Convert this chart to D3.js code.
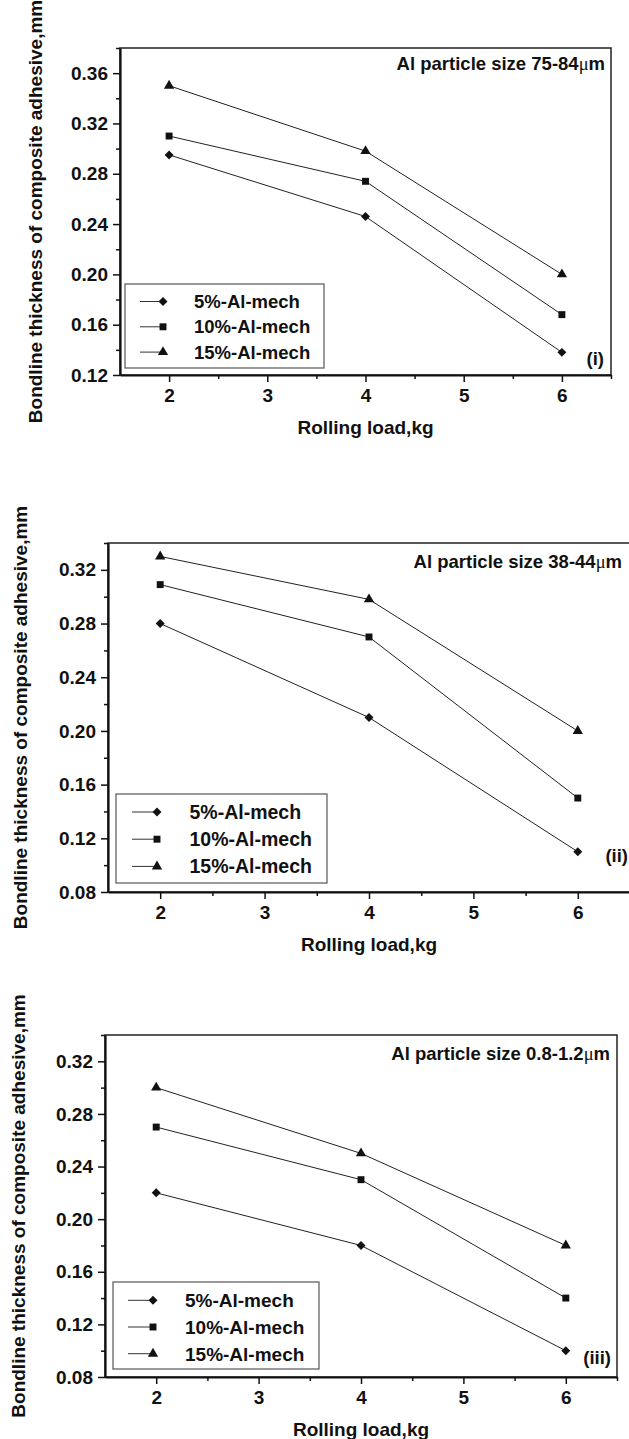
<!DOCTYPE html>
<html>
  <head>
    <meta charset="UTF-8" />
    <style>
      body {
        margin: 0;
        background: #fff;
      }
      svg {
        display: block;
        font-family: "Liberation Sans", Arial, sans-serif;
        font-weight: bold;
      }
      .axis path,
      .axis line {
        stroke: #111;
      }
      .axis text {
        font-family: "Liberation Sans", Arial, sans-serif;
        font-size: 19px;
        font-weight: bold;
        fill: #111;
      }
    </style>
  </head>
  <body>
    <svg></svg>

    <script src="https://d3js.org/d3.v7.min.js"></script>

    <script>
      // Rolling load, kg
      const loads = [2, 4, 6];
      const seriesNames = ["5%-Al-mech", "10%-Al-mech", "15%-Al-mech"];

      // Bondline thickness, mm -- (i) Al particle size 75-84um
      const coarse5 = [0.295, 0.246, 0.138];
      const coarse10 = [0.31, 0.274, 0.168];
      const coarse15 = [0.35, 0.298, 0.2];

      // (ii) Al particle size 38-44um
      const medium5 = [0.28, 0.21, 0.11];
      const medium10 = [0.309, 0.27, 0.15];
      const medium15 = [0.33, 0.298, 0.2];

      // (iii) Al particle size 0.8-1.2um
      const fine5 = [0.22, 0.18, 0.1];
      const fine10 = [0.27, 0.23, 0.14];
      const fine15 = [0.3, 0.25, 0.18];

      const xTicks = [2, 3, 4, 5, 6];
      const xMinorTicks = [2.5, 3.5, 4.5, 5.5, 6.5];
      const yTicksA = [0.12, 0.16, 0.2, 0.24, 0.28, 0.32, 0.36];
      const yMinorA = [0.14, 0.18, 0.22, 0.26, 0.3, 0.34, 0.38];
      const yTicksB = [0.08, 0.12, 0.16, 0.2, 0.24, 0.28, 0.32];
      const yMinorB = [0.1, 0.14, 0.18, 0.22, 0.26, 0.3, 0.34];

      const sizeLabels = ["75-84", "38-44", "0.8-1.2"];
      const panelTags = ["(i)", "(ii)", "(iii)"];

      let width = 629,
        height = 1439;

      let svg = d3
        .select("svg")
        .attr("width", width)
        .attr("height", height)
        .attr("viewBox", "0 0 " + width + " " + height);

      const symbols = [
        { type: d3.symbolSquare, size: 40, rotate: 45 },
        { type: d3.symbolSquare, size: 48, rotate: 0 },
        { type: d3.symbolTriangle, size: 46, rotate: 0 },
      ];

      // layout of each panel (pixels)
      const panels = [
        {
          box: [120, 48, 611, 375],
          yDomain: [0.12, 0.38],
          yTicks: yTicksA,
          yMinor: yMinorA,
          series: [coarse5, coarse10, coarse15],
          yLabelX: 42,
          titleBase: 70,
          titleRight: 605,
          tagRight: 604,
          tagBase: 365,
          legend: { x: 125, y: 284, w: 199, h: 84, first: 17.5, step: 25.3, line: 15, mark: 38, text: 69, font: 18.5 },
        },
        {
          box: [108, 543, 630, 892],
          yDomain: [0.08, 0.34],
          yTicks: yTicksB,
          yMinor: yMinorB,
          series: [medium5, medium10, medium15],
          yLabelX: 27,
          titleBase: 568,
          titleRight: 622,
          tagRight: 628,
          tagBase: 862,
          legend: { x: 116, y: 794, w: 211, h: 89, first: 18, step: 27.2, line: 16, mark: 41, text: 73.5, font: 19.5 },
        },
        {
          box: [105, 1035, 617, 1377],
          yDomain: [0.08, 0.34],
          yTicks: yTicksB,
          yMinor: yMinorB,
          series: [fine5, fine10, fine15],
          yLabelX: 25,
          titleBase: 1060,
          titleRight: 610,
          tagRight: 611,
          tagBase: 1364,
          legend: { x: 113, y: 1282, w: 206, h: 87, first: 18.3, step: 26.7, line: 15, mark: 40, text: 72, font: 19 },
        },
      ];

      panels.forEach(function (p, i) {
        let [left, top, right, bottom] = p.box;
        let g = svg.append("g").attr("class", "panel");

        let x = d3.scaleLinear().domain([1.5, 6.5]).range([left, right]);
        let y = d3.scaleLinear().domain(p.yDomain).range([bottom, top]);

        // frame (top and right sides)
        g.append("rect")
          .attr("x", left)
          .attr("y", top)
          .attr("width", right - left)
          .attr("height", bottom - top)
          .attr("fill", "none")
          .attr("stroke", "#222")
          .attr("stroke-width", 1.5);

        // minor ticks
        g.append("g")
          .attr("class", "axis")
          .attr("transform", "translate(0," + bottom + ")")
          .call(d3.axisBottom(x).tickValues(xMinorTicks).tickSize(4).tickSizeOuter(0).tickFormat(""))
          .call((a) => a.select(".domain").remove())
          .selectAll("line")
          .attr("stroke-width", 1.5);
        g.append("g")
          .attr("class", "axis")
          .attr("transform", "translate(" + left + ",0)")
          .call(d3.axisLeft(y).tickValues(p.yMinor).tickSize(4).tickSizeOuter(0).tickFormat(""))
          .call((a) => a.select(".domain").remove())
          .selectAll("line")
          .attr("stroke-width", 1.5);

        // major axes
        let xAxis = g
          .append("g")
          .attr("class", "axis")
          .attr("transform", "translate(0," + bottom + ")")
          .call(d3.axisBottom(x).tickValues(xTicks).tickSize(7).tickPadding(7).tickSizeOuter(0).tickFormat(d3.format("d")));
        xAxis.select(".domain").attr("stroke-width", 2.2);
        xAxis.selectAll(".tick line").attr("stroke-width", 1.5);

        let yAxis = g
          .append("g")
          .attr("class", "axis")
          .attr("transform", "translate(" + left + ",0)")
          .call(d3.axisLeft(y).tickValues(p.yTicks).tickSize(7).tickPadding(5).tickSizeOuter(0).tickFormat(d3.format(".2f")));
        yAxis.select(".domain").attr("stroke-width", 2.2);
        yAxis.selectAll(".tick line").attr("stroke-width", 1.5);

        // axis titles
        g.append("text")
          .attr("x", (left + right) / 2)
          .attr("y", bottom + 59)
          .attr("text-anchor", "middle")
          .attr("font-size", 19)
          .attr("fill", "#111")
          .text("Rolling load,kg");

        g.append("text")
          .attr("transform", "translate(" + p.yLabelX + "," + (top + bottom) / 2 + ") rotate(-90)")
          .attr("text-anchor", "middle")
          .attr("font-size", 19)
          .attr("fill", "#111")
          .text("Bondline thickness of composite adhesive,mm");

        // particle size note
        let title = g
          .append("text")
          .attr("x", p.titleRight)
          .attr("y", p.titleBase)
          .attr("text-anchor", "end")
          .attr("font-size", 18.5)
          .attr("fill", "#111");
        title.append("tspan").text("Al particle size " + sizeLabels[i]);
        title
          .append("tspan")
          .attr("font-family", "'Liberation Serif', serif")
          .attr("font-weight", "normal")
          .text("\u03bc");
        title.append("tspan").text("m");

        g.append("text")
          .attr("x", p.tagRight)
          .attr("y", p.tagBase)
          .attr("text-anchor", "end")
          .attr("font-size", 18.5)
          .attr("fill", "#111")
          .text(panelTags[i]);

        // series lines and markers
        let line = d3
          .line()
          .x((d, k) => x(loads[k]))
          .y((d) => y(d));

        p.series.forEach(function (values, s) {
          g.append("path")
            .datum(values)
            .attr("d", line)
            .attr("fill", "none")
            .attr("stroke", "#222")
            .attr("stroke-width", 1);

          g.selectAll(".m" + s)
            .data(values)
            .enter()
            .append("path")
            .attr("class", "m" + s)
            .attr("d", d3.symbol().type(symbols[s].type).size(symbols[s].size))
            .attr("transform", (d, k) => "translate(" + x(loads[k]) + "," + y(d) + ") rotate(" + symbols[s].rotate + ")")
            .attr("fill", "#111");
        });

        // legend
        let L = p.legend;
        let lg = g.append("g").attr("transform", "translate(" + L.x + "," + L.y + ")");
        lg.append("rect")
          .attr("width", L.w)
          .attr("height", L.h)
          .attr("fill", "#fff")
          .attr("stroke", "#555")
          .attr("stroke-width", 1.2);

        seriesNames.forEach(function (name, s) {
          let ry = L.first + s * L.step;
          lg.append("line")
            .attr("x1", L.line)
            .attr("x2", L.mark)
            .attr("y1", ry)
            .attr("y2", ry)
            .attr("stroke", "#333")
            .attr("stroke-width", 1);
          lg.append("path")
            .attr("d", d3.symbol().type(symbols[s].type).size(symbols[s].size))
            .attr("transform", "translate(" + L.mark + "," + ry + ") rotate(" + symbols[s].rotate + ")")
            .attr("fill", "#111");
          lg.append("text")
            .attr("x", L.text)
            .attr("y", ry)
            .attr("dy", "0.36em")
            .attr("font-size", L.font)
            .attr("fill", "#111")
            .text(name);
        });
      });
    </script>
  </body>
</html>
